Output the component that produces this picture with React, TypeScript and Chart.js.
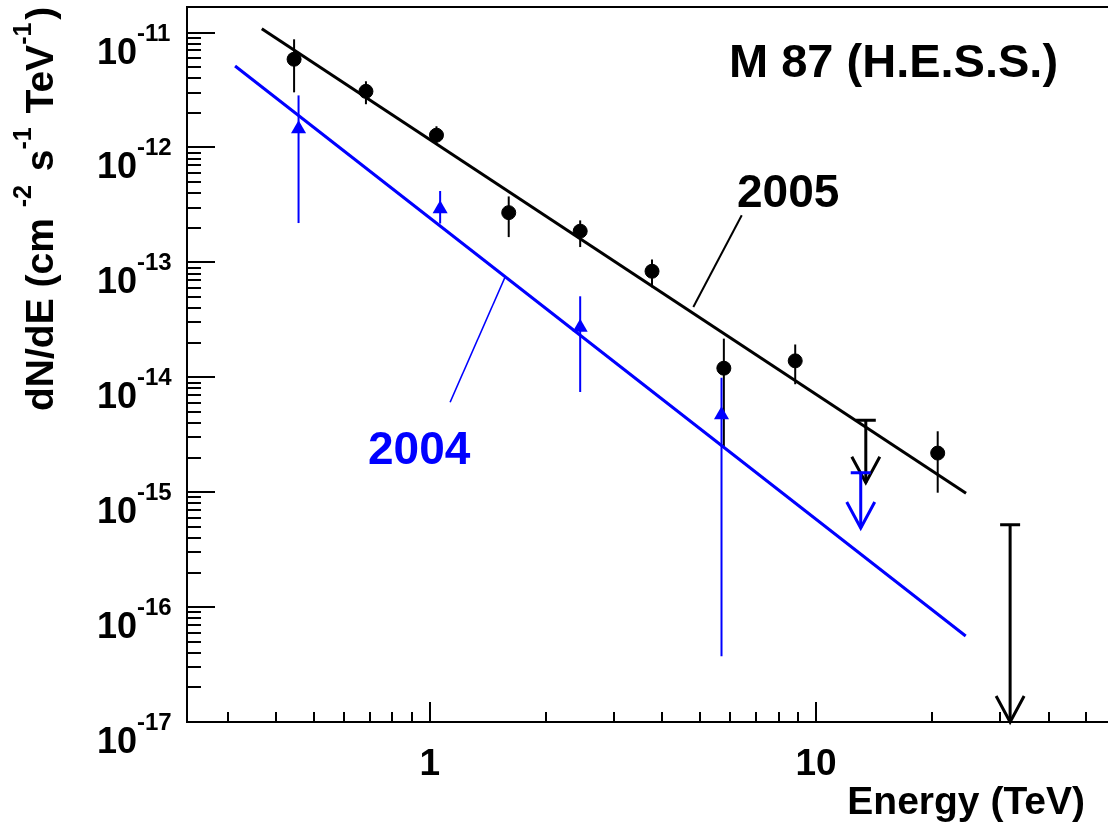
import { useEffect, useRef } from "react";
import { Chart, registerables } from "chart.js";
Chart.register(...registerables);

// ---- 2005 data (black) ----
const energy2005 = [0.445, 0.683, 1.04, 1.6, 2.45, 3.76, 5.77, 8.83, 20.65];
const flux2005 = [5.86e-12, 3.08e-12, 1.28e-12, 2.71e-13, 1.87e-13, 8.37e-14, 1.2e-14, 1.39e-14, 2.19e-15];
const fluxHi2005 = [8.74e-12, 3.77e-12, 1.53e-12, 3.75e-13, 2.32e-13, 1.06e-13, 2.17e-14, 1.93e-14, 3.39e-15];
const fluxLo2005 = [3.02e-12, 2.38e-12, 1.05e-12, 1.66e-13, 1.36e-13, 6.07e-14, 2.47e-15, 8.7e-15, 9.9e-16];
const ulEnergy2005 = [13.45, 31.8];
const ulFlux2005 = [4.23e-15, 5.22e-16];
const ulTip2005 = [1.21e-15, 1e-17];

// ---- 2004 data (blue) ----
const energy2004 = [0.457, 1.063, 2.45, 5.69];
const flux2004 = [1.45e-12, 2.92e-13, 2.72e-14, 4.7e-15];
const fluxHi2004 = [2.84e-12, 4.18e-13, 5.07e-14, 9.93e-15];
const fluxLo2004 = [2.2e-13, 2.18e-13, 7.45e-15, 3.73e-17];
const ulEnergy2004 = [13.05];
const ulFlux2004 = [1.48e-15];
const ulTip2004 = [4.88e-16];

// ---- power-law fits (end points) ----
const fitEnergy2005 = [0.367, 24.45];
const fitFlux2005 = [1.08e-11, 9.8e-16];
const fitEnergy2004 = [0.313, 24.4];
const fitFlux2004 = [5.12e-12, 5.6e-17];

// ---- label pointers (data coords) ----
const ptrEnergy2005 = [6.42, 4.81];
const ptrFlux2005 = [2.57e-13, 4.09e-14];
const ptrEnergy2004 = [1.566, 1.128];
const ptrFlux2004 = [7.46e-14, 6.06e-15];

// ---- axes ----
const xMin = 0.235;
const xMax = 57.0;
const yMin = 1e-17;
const yMax = 1.67e-11;
const xTickLabelValues = [1, 10];
const xTickLabels = ["1", "10"];
const yTickExponents = [-11, -12, -13, -14, -15, -16, -17];

const BLUE = "#0000ff";
const BLACK = "#000000";
const FONT = "'Liberation Sans', Arial, Helvetica, sans-serif";

function pts(xs: number[], ys: number[]) {
  return xs.map((x, i) => ({ x, y: ys[i] }));
}

const drawPlugin = {
  id: "rootStyle",
  beforeDatasetsDraw(chart: any) {
    const ctx = chart.ctx as CanvasRenderingContext2D;
    const xs = chart.scales.x;
    const ys = chart.scales.y;
    ctx.save();
    ctx.lineCap = "butt";
    const errBars = (e: number[], lo: number[], hi: number[], color: string, w: number) => {
      ctx.strokeStyle = color;
      ctx.lineWidth = w;
      e.forEach((ev, i) => {
        const px = xs.getPixelForValue(ev);
        ctx.beginPath();
        ctx.moveTo(px, ys.getPixelForValue(lo[i]));
        ctx.lineTo(px, ys.getPixelForValue(hi[i]));
        ctx.stroke();
      });
    };
    errBars(energy2005, fluxLo2005, fluxHi2005, BLACK, 2);
    errBars(energy2004, fluxLo2004, fluxHi2004, BLUE, 2);

    const uls = (e: number[], f: number[], tip: number[], color: string) => {
      ctx.strokeStyle = color;
      ctx.lineWidth = 3;
      e.forEach((ev, i) => {
        const px = xs.getPixelForValue(ev);
        const py = ys.getPixelForValue(f[i]);
        const pt = ys.getPixelForValue(tip[i]);
        ctx.beginPath();
        ctx.moveTo(px - 10, py);
        ctx.lineTo(px + 10, py);
        ctx.moveTo(px, py);
        ctx.lineTo(px, pt);
        ctx.stroke();
        ctx.beginPath();
        ctx.moveTo(px - 14, pt - 26);
        ctx.lineTo(px, pt);
        ctx.lineTo(px + 14, pt - 26);
        ctx.stroke();
      });
    };
    uls(ulEnergy2005, ulFlux2005, ulTip2005, BLACK);
    uls(ulEnergy2004, ulFlux2004, ulTip2004, BLUE);
    ctx.restore();
  },
  afterDatasetsDraw(chart: any) {
    const ctx = chart.ctx as CanvasRenderingContext2D;
    const xs = chart.scales.x;
    const ys = chart.scales.y;
    const { left, right, top, bottom } = chart.chartArea;
    ctx.save();
    // frame (right side falls at the picture edge)
    ctx.strokeStyle = BLACK;
    ctx.lineWidth = 2;
    ctx.beginPath();
    ctx.moveTo(right + 2, top);
    ctx.lineTo(left, top);
    ctx.lineTo(left, bottom);
    ctx.lineTo(right + 2, bottom);
    ctx.stroke();

    // x ticks
    ctx.lineWidth = 2;
    ctx.beginPath();
    for (let d = -1; d <= 1; d++) {
      for (let m = 1; m <= 9; m++) {
        const v = m * Math.pow(10, d);
        if (v < xMin || v > xMax) continue;
        const px = Math.round(xs.getPixelForValue(v));
        const len = m === 1 ? 20 : 10;
        ctx.moveTo(px, bottom);
        ctx.lineTo(px, bottom - len);
      }
    }
    // y ticks
    for (let d = -17; d <= -11; d++) {
      for (let m = 1; m <= 9; m++) {
        const v = m * Math.pow(10, d);
        if (v < yMin * 0.999 || v > yMax) continue;
        const py = Math.round(ys.getPixelForValue(v));
        const len = m === 1 ? 28 : 14;
        ctx.moveTo(left, py);
        ctx.lineTo(left + len, py);
      }
    }
    ctx.stroke();

    // x tick labels
    ctx.fillStyle = BLACK;
    ctx.font = `bold 37px ${FONT}`;
    ctx.textAlign = "center";
    ctx.textBaseline = "alphabetic";
    xTickLabelValues.forEach((v, i) => {
      ctx.fillText(xTickLabels[i], xs.getPixelForValue(v), 775);
    });

    // y tick labels
    yTickExponents.forEach((ex) => {
      const py = ys.getPixelForValue(Math.pow(10, ex));
      ctx.font = `bold 36px ${FONT}`;
      ctx.textAlign = "right";
      ctx.fillText("10", 137, py + 31);
      ctx.font = `bold 24px ${FONT}`;
      ctx.textAlign = "left";
      ctx.fillText("-" + Math.abs(ex), 137, py + 8);
    });

    // x axis title
    ctx.font = `bold 39px ${FONT}`;
    ctx.textAlign = "right";
    ctx.fillText("Energy (TeV)", 1085, 814);

    // y axis title (rotated, with superscripts)
    const segs = [
      { t: "dN/dE (cm ", s: false },
      { t: "-2", s: true },
      { t: " s", s: false },
      { t: "-1", s: true },
      { t: " TeV", s: false },
      { t: "-1", s: true },
      { t: ")", s: false },
    ];
    ctx.save();
    ctx.translate(53, 411);
    ctx.rotate(-Math.PI / 2);
    ctx.textAlign = "left";
    let cx = 0;
    segs.forEach((sg) => {
      ctx.font = sg.s ? `bold 25px ${FONT}` : `bold 39px ${FONT}`;
      ctx.fillText(sg.t, cx, sg.s ? -22 : 0);
      cx += ctx.measureText(sg.t).width + (sg.s ? 3 : 0);
    });
    ctx.restore();

    // title
    ctx.font = `bold 47px ${FONT}`;
    ctx.textAlign = "left";
    ctx.fillStyle = BLACK;
    ctx.fillText("M 87 (H.E.S.S.)", 729, 77);

    // labels
    ctx.font = `bold 46px ${FONT}`;
    ctx.fillStyle = BLACK;
    ctx.fillText("2005", 737, 207);
    ctx.fillStyle = BLUE;
    ctx.fillText("2004", 368, 464);

    // pointers
    ctx.lineWidth = 2;
    ctx.strokeStyle = BLACK;
    ctx.beginPath();
    ctx.moveTo(xs.getPixelForValue(ptrEnergy2005[0]), ys.getPixelForValue(ptrFlux2005[0]));
    ctx.lineTo(xs.getPixelForValue(ptrEnergy2005[1]), ys.getPixelForValue(ptrFlux2005[1]));
    ctx.stroke();
    ctx.strokeStyle = BLUE;
    ctx.lineWidth = 1.6;
    ctx.beginPath();
    ctx.moveTo(xs.getPixelForValue(ptrEnergy2004[0]), ys.getPixelForValue(ptrFlux2004[0]));
    ctx.lineTo(xs.getPixelForValue(ptrEnergy2004[1]), ys.getPixelForValue(ptrFlux2004[1]));
    ctx.stroke();
    ctx.restore();
  },
};

export default function App() {
  const ref = useRef<HTMLCanvasElement | null>(null);
  useEffect(() => {
    if (!ref.current) return;
    const chart = new Chart(ref.current, {
      type: "scatter",
      data: {
        datasets: [
          {
            type: "line",
            data: pts(fitEnergy2005, fitFlux2005),
            borderColor: BLACK,
            borderWidth: 3,
            pointRadius: 0,
            fill: false,
          } as any,
          {
            type: "line",
            data: pts(fitEnergy2004, fitFlux2004),
            borderColor: BLUE,
            borderWidth: 3,
            pointRadius: 0,
            fill: false,
          } as any,
          {
            type: "scatter",
            data: pts(energy2005, flux2005),
            pointStyle: "circle",
            pointRadius: 7,
            pointBorderWidth: 1,
            pointBackgroundColor: BLACK,
            pointBorderColor: BLACK,
          },
          {
            type: "scatter",
            data: pts(energy2004, flux2004),
            pointStyle: "triangle",
            pointRadius: 8.7,
            pointBorderWidth: 0,
            pointBackgroundColor: BLUE,
            pointBorderColor: BLUE,
          },
        ],
      },
      options: {
        animation: false,
        responsive: false,
        events: [],
        layout: { autoPadding: false, padding: { left: 187, top: 7, right: 0, bottom: 107 } },
        plugins: { legend: { display: false }, tooltip: { enabled: false } },
        scales: {
          x: { type: "logarithmic", min: xMin, max: xMax, display: false, bounds: "data" },
          y: { type: "logarithmic", min: yMin, max: yMax, display: false, bounds: "data" },
        },
      },
      plugins: [drawPlugin],
    });
    return () => chart.destroy();
  }, []);
  return (
    <div style={{ position: "fixed", left: 0, top: 0, width: 1108, height: 829, background: "#fff" }}>
      <canvas ref={ref} width={1108} height={829} style={{ display: "block" }} />
    </div>
  );
}
